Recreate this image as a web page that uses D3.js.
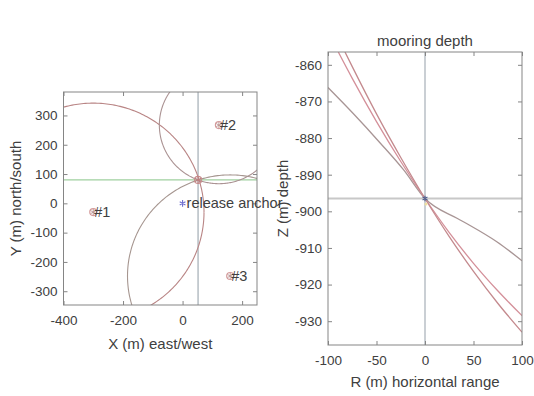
<!DOCTYPE html>
<html>
<head>
<meta charset="utf-8">
<script src="https://cdn.jsdelivr.net/npm/d3@7"></script>
<style>
  html, body { margin: 0; padding: 0; background: #fff; }
  svg { display: block; }
  text { font-family: "Liberation Sans", Arial, sans-serif; fill: #404040; }
</style>
</head>
<body>
<svg id="chart" width="534" height="396"></svg>
<script>
// ---- plan view: transponders, range circles, mooring fix ----
const planXTicks = [-400, -200, 0, 200];
const planYTicks = [-300, -200, -100, 0, 100, 200, 300];
const planXLim = [-400, 250];
const planYLim = [-347, 380];

const transponderLabels = ["#1", "#2", "#3"];
const transponderX = [-300, 122, 160];
const transponderY = [-30, 267, -248];
const transponderRange = [372, 200, 345];
const circleColors = ["#b98585", "#ab9393", "#a69690"];

const mooringX = 52;
const mooringY = 80;
const anchorX = 0;
const anchorY = 0;

// ---- depth view: range/depth curves through the mooring depth ----
const depthXTicks = [-100, -50, 0, 50, 100];
const depthYTicks = [-930, -920, -910, -900, -890, -880, -870, -860];
const depthXLim = [-100, 100];
const depthYLim = [-936.5, -856.5];
const mooringDepth = -896.5;

const curveR1 = [-100, -74, -46, -22, 0, 33, 46, 74, 100];
const curveZ1 = [-866.2, -873.3, -881.4, -888.7, -896.5, -901.9, -903.8, -908.3, -913.5];
const curveR2 = [-89.4, -75, -50, -25, 0, 25, 50, 75, 100];
const curveZ2 = [-856.5, -863.7, -875.5, -886.4, -896.5, -905.8, -914.2, -921.7, -928.5];
const curveR3 = [-82.5, -75, -50, -25, 0, 25, 50, 75, 100];
const curveZ3 = [-856.5, -860.5, -873.4, -885.3, -896.5, -906.9, -916.4, -925.1, -933];
const curveColors = ["#a89595", "#d4909a", "#c48a8e"];

const svg = d3.select("#chart");
const axisGray = "#858585";
const plain = d => String(d);   // ASCII hyphen for negative ticks

function boxAxes(g, x, y, xTicks, yTicks) {
  const [x0, x1] = x.range();
  const [y0, y1] = y.range();
  const bottom = d3.axisBottom(x).tickValues(xTicks).tickFormat(plain).tickSizeInner(-4).tickSizeOuter(0).tickPadding(10);
  const top = d3.axisTop(x).tickValues(xTicks).tickSizeInner(-4).tickSizeOuter(0).tickFormat("");
  const left = d3.axisLeft(y).tickValues(yTicks).tickFormat(plain).tickSizeInner(-4).tickSizeOuter(0).tickPadding(6);
  const right = d3.axisRight(y).tickValues(yTicks).tickSizeInner(-4).tickSizeOuter(0).tickFormat("");
  const style = a => {
    a.selectAll("path").remove();
    a.selectAll("line").attr("stroke", axisGray);
    a.selectAll("text").style("font-size", "13.5px").attr("fill", "#404040");
  };
  g.append("g").attr("transform", `translate(0,${y0})`).call(bottom).call(style);
  g.append("g").attr("transform", `translate(0,${y1})`).call(top).call(style);
  g.append("g").attr("transform", `translate(${x0},0)`).call(left).call(style);
  g.append("g").attr("transform", `translate(${x1},0)`).call(right).call(style);
  g.append("rect")
    .attr("x", x0).attr("y", y1)
    .attr("width", x1 - x0).attr("height", y0 - y1)
    .attr("fill", "none").attr("stroke", axisGray).attr("stroke-width", 1);
}

function asterisk(g, cx, cy, size, color, width) {
  g.append("path")
    .attr("d", d3.symbol(d3.symbolAsterisk, size)())
    .attr("transform", `translate(${cx},${cy})`)
    .attr("fill", "none").attr("stroke", color).attr("stroke-width", width);
}

// ================= plan view =================
{
  const x = d3.scaleLinear().domain(planXLim).range([63.5, 257]);
  const y = d3.scaleLinear().domain(planYLim).range([305, 92]);
  const g = svg.append("g");

  g.append("clipPath").attr("id", "clipPlan")
    .append("rect").attr("x", 63.5).attr("y", 92).attr("width", 257 - 63.5).attr("height", 305 - 92);
  const plot = g.append("g").attr("clip-path", "url(#clipPlan)");

  // crosshair through the mooring fix
  plot.append("line")
    .attr("x1", x(planXLim[0])).attr("x2", x(planXLim[1]))
    .attr("y1", y(mooringY)).attr("y2", y(mooringY))
    .attr("stroke", "#9fd09f").attr("stroke-width", 1.2);
  plot.append("line")
    .attr("x1", x(mooringX)).attr("x2", x(mooringX))
    .attr("y1", y(planYLim[0])).attr("y2", y(planYLim[1]))
    .attr("stroke", "#a3adb5").attr("stroke-width", 1.2);

  // horizontal range circle around each transponder
  const angles = d3.range(0, 361, 1).map(a => a * Math.PI / 180);
  const circleLine = d3.line().x(d => x(d[0])).y(d => y(d[1]));
  transponderX.forEach((tx, i) => {
    const pts = angles.map(a => [tx + transponderRange[i] * Math.cos(a), transponderY[i] + transponderRange[i] * Math.sin(a)]);
    plot.append("path")
      .attr("d", circleLine(pts))
      .attr("fill", "none").attr("stroke", circleColors[i]).attr("stroke-width", 1.1);
  });

  // mooring fix marker
  plot.append("circle").attr("cx", x(mooringX)).attr("cy", y(mooringY)).attr("r", 3.5)
    .attr("fill", "none").attr("stroke", "#c99090").attr("stroke-width", 1.2);
  asterisk(plot, x(mooringX), y(mooringY), 40, "#c08080", 1);

  boxAxes(g, x, y, planXTicks, planYTicks);

  // transponders
  transponderX.forEach((tx, i) => {
    const cx = x(tx), cy = y(transponderY[i]);
    g.append("circle").attr("cx", cx).attr("cy", cy).attr("r", 3.5)
      .attr("fill", "none").attr("stroke", "#d49a9a").attr("stroke-width", 1.2);
    asterisk(g, cx, cy, 25, "#b08888", 0.8);
    g.append("text").attr("x", cx + 1).attr("y", cy).attr("dy", "0.35em")
      .style("font-size", "14.5px").text(transponderLabels[i]);
  });

  // release anchor
  asterisk(g, x(anchorX), y(anchorY), 30, "#6f6fd0", 1.1);
  g.append("text").attr("x", x(anchorX) + 4).attr("y", y(anchorY)).attr("dy", "0.35em")
    .style("font-size", "14.5px").text("release anchor");

  g.append("text").attr("x", (63.5 + 257) / 2).attr("y", 349)
    .attr("text-anchor", "middle").style("font-size", "15px").text("X (m) east/west");
  g.append("text").attr("transform", `translate(21,${(92 + 305) / 2}) rotate(-90)`)
    .attr("text-anchor", "middle").style("font-size", "15px").text("Y (m) north/south");
}

// ================= depth view =================
{
  const x = d3.scaleLinear().domain(depthXLim).range([328, 522]);
  const y = d3.scaleLinear().domain(depthYLim).range([345, 52]);
  const g = svg.append("g");

  g.append("clipPath").attr("id", "clipDepth")
    .append("rect").attr("x", 328).attr("y", 52).attr("width", 522 - 328).attr("height", 345 - 52);
  const plot = g.append("g").attr("clip-path", "url(#clipDepth)");

  plot.append("line")
    .attr("x1", x(depthXLim[0])).attr("x2", x(depthXLim[1]))
    .attr("y1", y(mooringDepth)).attr("y2", y(mooringDepth))
    .attr("stroke", "#c8c8c8").attr("stroke-width", 2);
  plot.append("line")
    .attr("x1", x(0)).attr("x2", x(0))
    .attr("y1", y(depthYLim[0])).attr("y2", y(depthYLim[1]))
    .attr("stroke", "#a7afb7").attr("stroke-width", 1.2);

  const line = d3.line().x(d => x(d[0])).y(d => y(d[1])).curve(d3.curveMonotoneX);
  [[curveR1, curveZ1], [curveR2, curveZ2], [curveR3, curveZ3]].forEach(([rs, zs], i) => {
    plot.append("path")
      .attr("d", line(rs.map((r, j) => [r, zs[j]])))
      .attr("fill", "none").attr("stroke", curveColors[i]).attr("stroke-width", 1.3);
  });

  plot.append("circle").attr("cx", x(1)).attr("cy", y(mooringDepth - 1.5)).attr("r", 1.5)
    .attr("fill", "#f0e0a0");
  asterisk(plot, x(0), y(mooringDepth), 22, "#4f5f8f", 1.1);

  boxAxes(g, x, y, depthXTicks, depthYTicks);

  g.append("text").attr("x", (328 + 522) / 2).attr("y", 46)
    .attr("text-anchor", "middle").style("font-size", "15px").text("mooring depth");
  g.append("text").attr("x", (328 + 522) / 2).attr("y", 387)
    .attr("text-anchor", "middle").style("font-size", "15px").text("R (m) horizontal range");
  g.append("text").attr("transform", `translate(288,${(52 + 345) / 2}) rotate(-90)`)
    .attr("text-anchor", "middle").style("font-size", "15px").text("Z (m) depth");
}
</script>
</body>
</html>
